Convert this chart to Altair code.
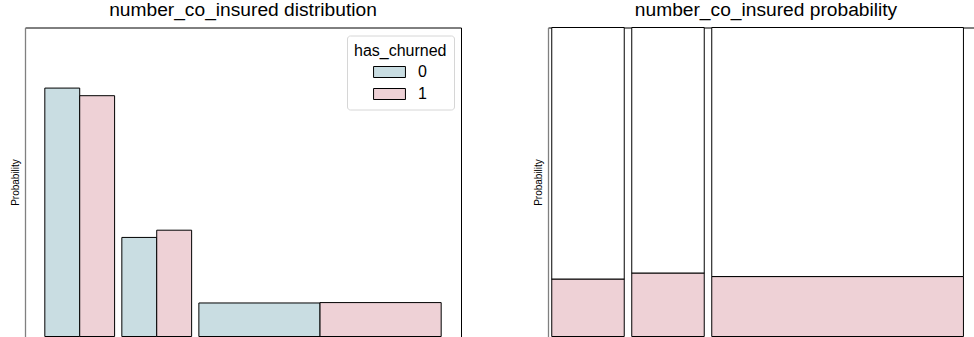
import altair as alt
import pandas as pd

FONT = "Liberation Sans"

# number_co_insured histogram bins
bin_lo = [1.0, 2.0, 3.0]
bin_hi = [2.0, 3.0, 6.24]

# share of each has_churned group falling in each bin (normalised per group)
prob_not_churned = [0.652, 0.260, 0.088]
prob_churned = [0.632, 0.279, 0.089]

# churn rate inside each bin
churn_rate = [0.186, 0.2055, 0.194]

groups = ["0", "1"]
group_colors = ["#c9dde2", "#eed1d6"]

# upper limit of the distribution panel's y axis
dist_y_top = 0.811

# half gap left between neighbouring bins, in x units
GAP = 0.047

# ---- distribution panel data (dodged bars per bin) ----
dist_rows = []
for lo, hi, p0, p1 in zip(bin_lo, bin_hi, prob_not_churned, prob_churned):
    mid = (lo + hi) / 2
    dist_rows.append({"has_churned": "0", "x0": lo + GAP, "x1": mid, "prob": p0})
    dist_rows.append({"has_churned": "1", "x0": mid, "x1": hi - GAP, "prob": p1})
dist = pd.DataFrame(dist_rows)

x_min = bin_lo[0] + GAP
x_max = bin_hi[-1] - GAP
margin = 0.05 * (x_max - x_min)
dist_x_domain = [x_min - margin, x_max + margin]

# ---- probability panel data (stacked to 1 per bin) ----
rate_rows = []
for lo, hi, r in zip(bin_lo, bin_hi, churn_rate):
    rate_rows.append({"has_churned": "1", "x0": lo + GAP, "x1": hi - GAP, "y0": 0.0, "y1": r})
    rate_rows.append({"has_churned": "0", "x0": lo + GAP, "x1": hi - GAP, "y0": r, "y1": 1.0})
rates = pd.DataFrame(rate_rows)

top_axis = alt.Axis(orient="top", labels=False, ticks=False, grid=False, title=None,
                    domainColor="black", domainWidth=1)


def left_axis():
    return alt.Axis(title="Probability", labels=False, ticks=False, grid=False,
                    domainColor="#808080", domainWidth=1.3, titleFont=FONT,
                    titleFontSize=10, titleFontWeight="normal", titleColor="black",
                    titlePadding=5)


legend = alt.Legend(
    title="has_churned", orient="none", legendX=322, legendY=8,
    titleFont=FONT, titleFontSize=16, titleFontWeight="normal", titleColor="black",
    labelFont=FONT, labelFontSize=16, labelColor="black",
    symbolType="M-1.45,-0.5H1.45V0.5H-1.45Z", symbolSize=484,
    symbolStrokeColor="black", symbolStrokeWidth=1, symbolOpacity=1,
    symbolOffset=24, labelOffset=17,
    padding=7, fillColor="white", strokeColor="#d6d6d6", cornerRadius=3,
    rowPadding=2, titlePadding=2,
)

dist_base = alt.Chart(dist)
dist_x = alt.X("x0:Q", scale=alt.Scale(domain=dist_x_domain, nice=False, zero=False), axis=top_axis)

dist_bars = dist_base.mark_bar(stroke="black", strokeWidth=1, opacity=1).encode(
    x=dist_x,
    x2="x1:Q",
    y=alt.Y("prob:Q", stack=None, scale=alt.Scale(domain=[0, dist_y_top], nice=False), axis=left_axis()),
    y2=alt.datum(0),
    color=alt.Color("has_churned:N", scale=alt.Scale(domain=groups, range=group_colors), legend=legend),
)

# invisible copy carrying the right-hand frame line
dist_frame = dist_base.mark_bar(opacity=0).encode(
    x=dist_x,
    x2="x1:Q",
    y=alt.Y("prob:Q", stack=None, axis=alt.Axis(orient="right", labels=False, ticks=False, grid=False,
                                                title=None, domainColor="black", domainWidth=1)),
    y2=alt.datum(0),
)

left = alt.layer(dist_bars, dist_frame).resolve_axis(y="independent").properties(
    width=436, height=309,
    title=alt.TitleParams("number_co_insured distribution"),
)

right = alt.Chart(rates).mark_bar(stroke="black", strokeWidth=1, opacity=1).encode(
    x=alt.X("x0:Q", scale=alt.Scale(domain=[bin_lo[0], 6.325], nice=False, zero=False), axis=top_axis),
    x2="x1:Q",
    y=alt.Y("y0:Q", scale=alt.Scale(domain=[0, 1], nice=False), axis=left_axis()),
    y2="y1:Q",
    color=alt.Color("has_churned:N", scale=alt.Scale(domain=["0", "1"], range=["white", group_colors[1]]),
                    legend=None),
).properties(
    width=426, height=309,
    title=alt.TitleParams("number_co_insured probability", dx=5),
)

chart = (
    alt.hconcat(left, right, spacing=72)
    .resolve_scale(color="independent")
    .resolve_legend(color="independent")
    .properties(padding={"left": 10, "top": 0.5, "right": 0, "bottom": 0}, background="white")
    .configure_view(stroke=None)
    .configure_title(font=FONT, fontSize=19.2, fontWeight="normal", color="black",
                     anchor="middle", baseline="alphabetic", offset=7)
)

chart.save("out.html", embed_options={"renderer": "svg", "actions": False})
